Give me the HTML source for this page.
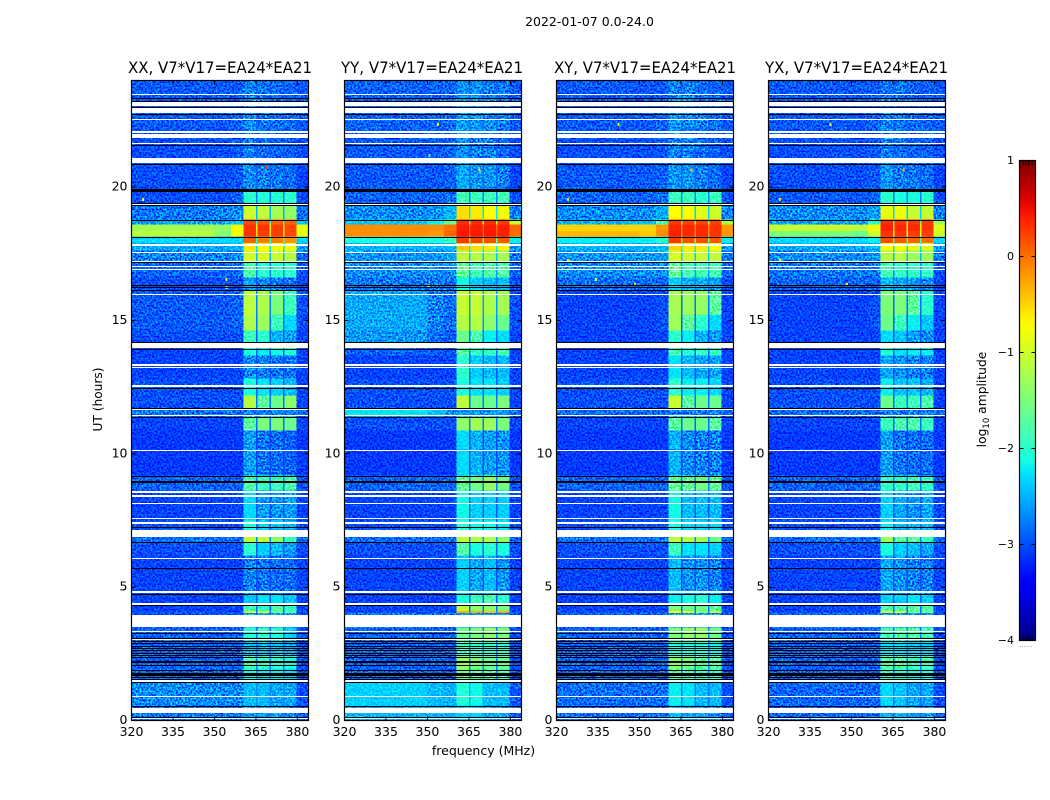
<!DOCTYPE html>
<html lang="en">
<head>
<meta charset="utf-8">
<title>2022-01-07 amplitude waterfall</title>
<style>
html,body{margin:0;padding:0;background:#fff;width:1050px;height:800px;overflow:hidden}
svg{display:block}
text{font-family:"DejaVu Sans","Liberation Sans",sans-serif;fill:#000}
</style>
</head>
<body>
<svg id="chart" xmlns="http://www.w3.org/2000/svg" width="1050" height="800" viewBox="0 0 1050 800">
<defs>
<filter id="speckle" x="0" y="0" width="100%" height="100%" color-interpolation-filters="sRGB">
<feTurbulence type="fractalNoise" baseFrequency="0.55" numOctaves="1" seed="7"/>
<feColorMatrix type="matrix" values="2.6 0 0 0 -0.8  2.6 0 0 0 -0.8  2.6 0 0 0 -0.8  0 0 0 0 1"/>
</filter>
<linearGradient id="jet-gradient" x1="0" y1="1" x2="0" y2="0"></linearGradient>
</defs>
<text x="589.5" y="26" font-size="12.5" text-anchor="middle">2022-01-07 0.0-24.0</text>
<text x="483.5" y="755" font-size="12.5" text-anchor="middle">frequency (MHz)</text>
<text x="0" y="0" font-size="12.2" text-anchor="middle" transform="translate(102 399.5) rotate(-90)">UT (hours)</text>
<text x="0" y="0" font-size="12.3" text-anchor="middle" transform="translate(986 399.5) rotate(-90)">log<tspan font-size="8.5" dy="3">10</tspan><tspan dy="-3"> amplitude</tspan></text>
<text x="1026" y="647" font-size="5" fill="#555" text-anchor="middle" letter-spacing="0.6">......</text>
</svg>
<script>
// Time rows: edges in UT hours, top to bottom
const rowEdges = [24,23.36,22.13,20.81,19.88,19.31,18.79,18.6,18.35,18.15,17.9,17.63,17.18,16.61,16.13,15.2,14.63,14.18,13.69,12.83,12.19,11.70,11.4,10.88,9.19,8.63,7.5,6.9,6.68,6.19,4.73,4.35,4.1,4.04,3.49,3.0,2.44,1.95,1.43,0.56,0];
// Frequency blocks in MHz, [start, end]; the column index is the block's position in each amplitude row
const freqBlocks = [[320,350],[350,356],[356,360.5],[360.5,365],[365.5,369.9],[370.4,374.8],[375.4,379.6],[379.6,384]];
// Log10 amplitude per row: [320-350, 350-356, 356-360, sub1, sub2, sub3, sub4, 380-384]
const ampXX = [
[-2.95,-2.95,-2.95,-2.75,-2.8,-2.85,-2.9,-2.95],
[-2.95,-2.95,-2.9,-2.7,-2.8,-2.85,-2.85,-2.95],
[-3,-3,-2.95,-2.75,-2.85,-2.9,-2.9,-3],
[-3,-3,-2.95,-2.7,-2.75,-2.8,-2.85,-3.05],
[-3,-3,-2.9,-2,-2.05,-2.05,-2,-3],
[-2.8,-2.75,-2.7,-1,-1.1,-1.25,-1.35,-2.85],
[-2.6,-2.6,-2.4,0.18,0.13,0.08,0.08,-2.4],
[-1.25,-1.35,-0.75,0.3,0.3,0.25,0.2,-0.85],
[-1.15,-1.45,-0.75,0.3,0.25,0.25,0.2,-0.85],
[-2.3,-2.3,-2.3,0.08,-0.07,-0.07,-0.17,-2.3],
[-2.55,-2.55,-2.5,-0.6,-0.7,-0.75,-0.8,-2.6],
[-2.75,-2.75,-2.7,-1,-0.95,-1.05,-1.15,-2.85],
[-2.9,-2.9,-2.85,-1.8,-2,-2,-2,-3],
[-3,-3,-3,-2.6,-2.7,-2.75,-2.8,-3.05],
[-2.95,-2.95,-2.9,-1.1,-1.2,-1.5,-1.9,-3],
[-2.95,-2.95,-2.9,-1.2,-1.3,-1.9,-2.3,-3],
[-3,-3,-3,-1.9,-2,-2.5,-2.6,-3.05],
[-3.05,-3.05,-3.05,-2.1,-2.2,-2.15,-2.05,-3.05],
[-3.05,-3.05,-3.05,-2.7,-2.75,-2.8,-2.8,-3.05],
[-3,-3,-3,-2.1,-2.25,-2.35,-2.45,-3.05],
[-3,-3,-3,-1.15,-1.7,-1.6,-1.4,-3.05],
[-2.8,-2.8,-2.8,-2.75,-2.75,-2.75,-2.75,-2.85],
[-3.05,-3.05,-3.05,-1.7,-1.5,-1.5,-1.6,-3.05],
[-3.1,-3.1,-3.1,-2.6,-2.8,-2.85,-2.9,-3.1],
[-2.9,-2.9,-2.9,-1.8,-1.9,-1.9,-1.8,-3],
[-3.05,-3.05,-3.05,-2.3,-2.6,-2.65,-2.6,-3.05],
[-3,-3,-3,-2.1,-2.35,-2.4,-2.45,-3],
[-2.85,-2.85,-2.85,-1.1,-1.1,-1.4,-1.9,-2.9],
[-3,-3,-3,-2,-2.35,-2.45,-2.6,-3],
[-3.05,-3.05,-3.05,-2.75,-2.8,-2.85,-2.85,-3.05],
[-3.05,-3.05,-3.05,-2.4,-2.25,-2.25,-2.4,-3.05],
[-3.05,-3.05,-3.05,-1.85,-1.95,-1.75,-1.95,-3.05],
[-3,-3,-3,-1,-1,-1.6,-1.7,-3],
[-3,-3,-3,-2.6,-2.6,-2.6,-2.65,-3],
[-2.9,-2.9,-2.9,-2.05,-1.95,-2.05,-2.35,-3],
[-2.9,-2.9,-2.9,-2.4,-2.4,-2.4,-2.5,-3],
[-2.9,-2.9,-2.9,-1.8,-1.9,-1.95,-2.05,-3],
[-2.9,-2.9,-2.9,-2.1,-2.2,-2.2,-2.3,-3],
[-2.7,-2.7,-2.72,-2.45,-2.45,-2.55,-2.55,-3],
[-2.8,-2.8,-2.8,-2.6,-2.6,-2.6,-2.7,-2.95]
];
const ampYY = [
[-2.9,-2.9,-2.9,-2.65,-2.65,-2.75,-2.8,-2.95],
[-2.9,-2.9,-2.85,-2.6,-2.65,-2.7,-2.75,-2.95],
[-2.95,-2.95,-2.9,-2.65,-2.75,-2.75,-2.85,-3],
[-2.95,-2.95,-2.9,-2.55,-2.65,-2.65,-2.75,-3.05],
[-2.9,-2.9,-2.85,-1.85,-1.9,-1.9,-1.85,-3],
[-2.7,-2.65,-2.5,-0.55,-0.6,-0.7,-0.8,-2.75],
[-2.4,-2.2,-1.6,0.33,0.33,0.33,0.28,-1],
[-0.15,-0.15,0,0.42,0.42,0.42,0.4,0.05],
[-0.15,-0.2,0.05,0.45,0.45,0.43,0.4,0],
[-2.1,-2.1,-1.9,0.28,0.23,0.18,0.13,-2.2],
[-2.5,-2.5,-2.45,-0.45,-0.55,-0.6,-0.65,-2.6],
[-2.65,-2.65,-2.6,-1.1,-1.15,-1.2,-1.25,-2.8],
[-2.7,-2.7,-2.7,-1.65,-1.85,-1.75,-1.75,-2.9],
[-2.8,-2.8,-2.8,-2.15,-2.35,-2.45,-2.45,-3],
[-2.55,-2.75,-2.85,-1.05,-1.05,-1.2,-1.25,-3],
[-2.55,-2.75,-2.85,-1.15,-1.15,-1.4,-1.6,-3],
[-2.65,-2.85,-2.95,-1.6,-1.8,-2.2,-2.3,-3.05],
[-2.9,-2.95,-2.95,-1.75,-1.95,-1.95,-1.85,-3.05],
[-3.05,-3.05,-3.05,-2,-2.35,-2.45,-2.45,-3.05],
[-3,-3,-3,-2.1,-2.25,-2.25,-2.35,-3.05],
[-3,-3,-3,-1.1,-1.6,-1.6,-1.5,-3.05],
[-2.25,-2.4,-2.65,-2.65,-2.65,-2.65,-2.65,-2.85],
[-3,-3,-3,-1.4,-1.25,-1.3,-1.5,-3.05],
[-3.1,-3.1,-3.1,-2.3,-2.5,-2.6,-2.65,-3.1],
[-2.9,-2.9,-2.9,-1.65,-1.55,-1.35,-1.55,-3],
[-3.05,-3.05,-3.05,-2.15,-2.35,-2.35,-2.35,-3.05],
[-3,-3,-3,-2,-2.15,-2.15,-2.25,-3],
[-2.85,-2.85,-2.85,-1.1,-1.2,-1.2,-1.4,-2.9],
[-3,-3,-3,-1.75,-2.1,-2,-2.1,-3],
[-3.05,-3.05,-3.05,-2.35,-2.55,-2.45,-2.65,-3.05],
[-3.05,-3.05,-3.05,-2.1,-1.9,-1.8,-2,-3.05],
[-3.05,-3.05,-3.05,-1.1,-1.4,-1.4,-1.5,-3.05],
[-3,-3,-3,-0.3,-0.3,-0.4,-0.3,-3],
[-2.8,-2.8,-2.8,-2.65,-2.65,-2.65,-2.65,-3],
[-2.9,-2.9,-2.9,-1.6,-1.5,-1.4,-1.5,-3],
[-2.9,-2.9,-2.9,-1.85,-1.95,-1.95,-1.95,-3],
[-2.9,-2.9,-2.9,-1.3,-1.5,-1.6,-1.6,-3],
[-2.9,-2.9,-2.9,-1.5,-1.7,-1.7,-1.8,-3],
[-2.35,-2.45,-2.5,-2.05,-2.15,-2.45,-2.45,-2.95],
[-2.5,-2.5,-2.5,-2.35,-2.35,-2.55,-2.55,-2.95]
];
const ampXY = [
[-2.95,-2.95,-2.95,-2.75,-2.75,-2.85,-2.9,-2.95],
[-2.95,-2.95,-2.9,-2.65,-2.7,-2.75,-2.85,-2.95],
[-3,-3,-2.95,-2.75,-2.75,-2.85,-2.9,-3],
[-2.95,-2.95,-2.9,-2.65,-2.65,-2.75,-2.85,-3.05],
[-2.9,-2.9,-2.85,-1.9,-1.9,-2,-1.9,-3],
[-2.7,-2.7,-2.55,-0.7,-0.7,-0.9,-1,-2.75],
[-2.5,-2.4,-1.8,0.28,0.23,0.23,0.23,-1.2],
[-0.5,-0.5,-0.2,0.37,0.37,0.35,0.3,-0.2],
[-0.35,-0.45,-0.15,0.4,0.35,0.35,0.3,-0.2],
[-2.2,-2.2,-2,0.28,0.18,0.18,0.13,-2.2],
[-2.5,-2.5,-2.45,-0.5,-0.6,-0.6,-0.7,-2.6],
[-2.65,-2.65,-2.6,-0.95,-1,-1.05,-1.1,-2.8],
[-2.7,-2.7,-2.7,-1.65,-1.85,-1.85,-1.85,-2.9],
[-2.85,-2.85,-2.85,-2.35,-2.5,-2.5,-2.6,-3],
[-3.05,-3.05,-3,-1.25,-1.3,-1.35,-1.7,-3.05],
[-3.05,-3.05,-3,-1.3,-1.7,-2,-2.3,-3.05],
[-3.05,-3.05,-3.05,-2,-2.2,-2.5,-2.6,-3.05],
[-3.05,-3.05,-3.05,-1.85,-2.05,-1.95,-1.95,-3.05],
[-3.05,-3.05,-3.05,-2.25,-2.45,-2.55,-2.55,-3.05],
[-3,-3,-3,-2,-2.2,-2.2,-2.3,-3.05],
[-3,-3,-3,-1.05,-1.7,-1.6,-1.6,-3.05],
[-2.85,-2.85,-2.85,-2.75,-2.75,-2.75,-2.75,-2.9],
[-3.05,-3.05,-3.05,-1.7,-1.6,-1.6,-1.7,-3.05],
[-3.1,-3.1,-3.1,-2.5,-2.7,-2.75,-2.75,-3.1],
[-2.9,-2.9,-2.9,-1.65,-1.65,-1.55,-1.65,-3],
[-3.05,-3.05,-3.05,-2.15,-2.45,-2.45,-2.45,-3.05],
[-3,-3,-3,-2.1,-2.3,-2.3,-2.3,-3],
[-2.85,-2.85,-2.85,-1.1,-1.15,-1.3,-1.6,-2.9],
[-3,-3,-3,-1.9,-2.25,-2.25,-2.35,-3],
[-3.05,-3.05,-3.05,-2.45,-2.65,-2.65,-2.75,-3.05],
[-3.05,-3.05,-3.05,-2.2,-2.1,-2,-2.2,-3.05],
[-3.05,-3.05,-3.05,-1.5,-1.6,-1.6,-1.7,-3.05],
[-3,-3,-3,-0.7,-0.8,-1.4,-1,-3],
[-2.9,-2.9,-2.9,-2.65,-2.65,-2.65,-2.65,-3],
[-2.9,-2.9,-2.9,-1.5,-1.35,-1.35,-1.6,-3],
[-2.9,-2.9,-2.9,-2.05,-2.05,-2.05,-2.15,-3],
[-2.9,-2.9,-2.9,-1.4,-1.5,-1.7,-1.7,-3],
[-2.9,-2.9,-2.9,-1.7,-1.8,-1.9,-1.9,-3],
[-2.85,-2.85,-2.85,-2.2,-2.25,-2.45,-2.45,-3],
[-2.85,-2.85,-2.85,-2.45,-2.55,-2.55,-2.65,-2.95]
];
const ampYX = [
[-2.95,-2.95,-2.95,-2.8,-2.8,-2.9,-2.9,-2.95],
[-2.95,-2.95,-2.9,-2.75,-2.8,-2.85,-2.9,-2.95],
[-3,-3,-2.95,-2.75,-2.85,-2.9,-2.9,-3],
[-3,-3,-2.95,-2.65,-2.75,-2.8,-2.85,-3.05],
[-2.95,-2.95,-2.9,-2,-2.1,-2.1,-2,-3],
[-2.7,-2.7,-2.6,-0.85,-0.8,-1.05,-1.05,-2.75],
[-2.6,-2.6,-2,0.33,0.28,0.28,0.28,-1.3],
[-1.05,-1.1,-0.8,0.4,0.37,0.35,0.3,-0.9],
[-1.5,-1.6,-1,0.3,0.3,0.25,0.25,-1],
[-2.3,-2.3,-2.2,0.18,0.13,0.08,0.03,-2.3],
[-2.55,-2.55,-2.5,-0.7,-0.75,-0.85,-0.9,-2.6],
[-2.7,-2.7,-2.65,-1.15,-1.1,-1.3,-1.3,-2.8],
[-2.8,-2.8,-2.8,-1.85,-1.95,-1.95,-1.95,-3],
[-2.9,-2.9,-2.9,-2.45,-2.55,-2.6,-2.7,-3.05],
[-3.05,-3.05,-3,-1.5,-1.5,-1.7,-2,-3.05],
[-3.05,-3.05,-3,-1.6,-1.9,-2.2,-2.4,-3.05],
[-3.05,-3.05,-3.05,-2.3,-2.4,-2.6,-2.7,-3.05],
[-3.05,-3.05,-3.05,-2.05,-2.25,-2.2,-2.2,-3.05],
[-3.05,-3.05,-3.05,-2.55,-2.65,-2.75,-2.75,-3.05],
[-3,-3,-3,-2.2,-2.4,-2.4,-2.5,-3.05],
[-3,-3,-3,-1.6,-1.9,-1.9,-1.8,-3.05],
[-2.85,-2.85,-2.85,-2.75,-2.75,-2.75,-2.75,-2.9],
[-3.05,-3.05,-3.05,-1.9,-1.8,-1.8,-1.9,-3.05],
[-3.1,-3.1,-3.1,-2.6,-2.8,-2.85,-2.85,-3.1],
[-2.9,-2.9,-2.9,-1.95,-1.95,-1.85,-1.95,-3],
[-3.05,-3.05,-3.05,-2.35,-2.55,-2.65,-2.55,-3.05],
[-3,-3,-3,-2.2,-2.45,-2.45,-2.45,-3],
[-2.85,-2.85,-2.85,-1.3,-1.7,-1.7,-1.9,-2.9],
[-3,-3,-3,-2.1,-2.35,-2.45,-2.55,-3],
[-3.05,-3.05,-3.05,-2.55,-2.65,-2.75,-2.75,-3.05],
[-3.05,-3.05,-3.05,-2.35,-2.35,-2.25,-2.35,-3.05],
[-3.05,-3.05,-3.05,-1.8,-1.8,-1.7,-1.8,-3.05],
[-3,-3,-3,-0.9,-0.9,-1.6,-1.5,-3],
[-2.9,-2.9,-2.9,-2.65,-2.65,-2.65,-2.65,-3],
[-2.9,-2.9,-2.9,-1.85,-1.75,-1.75,-1.85,-3],
[-2.9,-2.9,-2.9,-2.25,-2.25,-2.35,-2.35,-3],
[-2.9,-2.9,-2.9,-1.7,-1.7,-1.9,-1.8,-3],
[-2.9,-2.9,-2.9,-1.9,-2,-2.1,-2.1,-3],
[-2.88,-2.88,-2.88,-2.3,-2.4,-2.55,-2.55,-3],
[-2.88,-2.88,-2.88,-2.5,-2.5,-2.6,-2.6,-2.95]
];
// Flagged (no data) intervals in UT hours: [upper, lower]
const flaggedGaps = [[23.51,23.46],[23.19,23.06],[22.96,22.77],[22.56,22.51],[22.10,22.05],[22.01,21.83],[21.66,21.62],[21.08,20.89],[19.39,19.33],[17.86,17.81],[17.57,17.52],[17.25,17.21],[17.03,16.99],[16.95,16.91],[16.01,15.98],[14.16,13.97],[13.36,13.31],[13.26,13.23],[12.60,12.56],[12.54,12.50],[11.67,11.63],[11.46,11.43],[10.16,10.13],[8.61,8.58],[8.56,8.52],[8.44,8.40],[8.15,8.11],[7.61,7.58],[7.43,7.38],[7.16,7.13],[7.11,6.90],[6.10,6.06],[4.84,4.77],[4.39,4.35],[3.94,3.50],[3.36,3.31],[3.05,3.01],[1.55,1.45],[0.93,0.89],[0.46,0.27],[0.09,0.05]];
// Black scan-boundary lines in UT hours
const scanLines = [23.34,23.23,22.99,22.76,21.59,20.88,19.92,19.89,19.85,19.39,19.32,18.78,18.15,17.18,16.35,16.24,16.13,14.19,13.95,12.48,11.71,11.40,9.16,9.0,8.96,7.25,6.69,5.71,4.73,4.34,3.27,3.09,3.0,2.89,2.8,2.71,2.63,2.54,2.46,2.38,2.25,2.18,2.1,1.88,1.8,1.75,1.71,1.65,1.56,1.44,0.55,0.15];
// Isolated interference spots: [panel index, UT hour, MHz, log10 amplitude]
const rfiSpots = [[0,20.8,368.4,0.3],[0,16.6,354,-0.6],[0,16.3,354,-0.8],[0,19.6,323.8,-0.9],[1,22.4,353.5,-0.8],[1,21.25,350.3,-1.7],[1,21.1,350.3,-1.7],[1,20.7,368.4,-0.6],[1,16.35,350,-0.8],[2,19.6,323.8,-0.5],[2,17.3,323.8,-0.6],[2,22.4,342,-0.9],[2,20.7,368.4,-0.4],[2,16.4,348,-0.5],[2,16.6,334,-1],[3,19.6,323.8,-0.5],[3,17.3,323.8,-0.6],[3,22.4,342,-0.9],[3,20.7,368.4,-0.4],[3,16.4,348,-0.6]];
// Axis ticks and panel labels
const panelTitles = ['XX, V7*V17=EA24*EA21','YY, V7*V17=EA24*EA21','XY, V7*V17=EA24*EA21','YX, V7*V17=EA24*EA21'];
const panelKeys = ['xx','yy','xy','yx'];
const panelAmps = [ampXX,ampYY,ampXY,ampYX];
const freqTicks = [320,335,350,365,380];
const hourTicks = [0,5,10,15,20];
const colorbarTicks = [1,0,-1,-2,-3,-4];

const NS = 'http://www.w3.org/2000/svg';
const svg = document.getElementById('chart');
const plotTop = 80.5, plotBottom = 720.5, plotWidth = 177;
const panelLefts = [131.5,344.5,556.5,768.5];
const titleCenters = [220,432,645,856.5];
const titleWidths = [184,182,182,183];
const freqMin = 320, freqMax = 384, hourMin = 0, hourMax = 24, ampMin = -4, ampMax = 1;
const cbLeft = 1019.5, cbRight = 1035.5, cbTop = 160.5, cbBottom = 640.5;
const noisyBelow = -1.6;

function xScale(left, mhz){ return left + (mhz - freqMin) / (freqMax - freqMin) * plotWidth; }
function yScale(hour){ return plotBottom - (hour - hourMin) / (hourMax - hourMin) * (plotBottom - plotTop); }
function cbScale(v){ return cbBottom - (v - ampMin) / (ampMax - ampMin) * (cbBottom - cbTop); }
function jet(t){
  t = Math.max(0, Math.min(1, t));
  const ramp = x => Math.max(0, Math.min(1, x));
  const r = ramp(t < 0.89 ? (t - 0.35) / 0.31 : 1 - (t - 0.89) / 0.11 * 0.5);
  const g = ramp(t < 0.64 ? (t - 0.125) / 0.25 : (0.91 - t) / 0.25);
  const b = ramp(t < 0.11 ? 0.5 + t / 0.11 * 0.5 : (0.65 - t) / 0.31);
  return 'rgb(' + Math.round(r * 255) + ',' + Math.round(g * 255) + ',' + Math.round(b * 255) + ')';
}
function ampColor(v){ return jet((v - ampMin) / (ampMax - ampMin)); }
function make(tag, parent, attrs){
  const el = document.createElementNS(NS, tag);
  for (const k in attrs) el.setAttribute(k, attrs[k]);
  parent.appendChild(el);
  return el;
}

panelKeys.forEach(function(key, p){
  const left = panelLefts[p], right = left + plotWidth, amps = panelAmps[p];
  const panel = make('g', svg, {});
  
  

  const title = make('text', panel, {x: titleCenters[p], y: 73, 'font-size': 15.6, 'text-anchor': 'middle', textLength: titleWidths[p], lengthAdjust: 'spacingAndGlyphs'});
  
  
  title.textContent = panelTitles[p];

  const clipId = 'clip-' + key;
  const clip = make('clipPath', panel, {id: clipId});
  make('rect', clip, {x: left, y: plotTop, width: plotWidth, height: plotBottom - plotTop});
  const noiseClip = make('clipPath', panel, {id: 'noise-clip-' + key});

  const heat = make('g', panel, {'clip-path': 'url(#' + clipId + ')', 'shape-rendering': 'crispEdges'});
  
  

  amps.forEach(function(row, r){
    const y0 = yScale(rowEdges[r]), y1 = yScale(rowEdges[r + 1]);
    // channels between sub-bands sit under the blocks: mostly the row's background, lifted a little by the dimmest sub-band
    const gapValue = 0.15 * Math.min(row[3], row[4], row[5], row[6]) + 0.85 * row[2];
    const base = make('rect', heat, {x: xScale(left, freqBlocks[3][0]), y: y0, width: xScale(left, freqBlocks[6][1]) - xScale(left, freqBlocks[3][0]), height: y1 - y0, fill: ampColor(gapValue)});
    
    
    freqBlocks.forEach(function(block, c){
      const x0 = xScale(left, block[0]), x1 = xScale(left, block[1]);
      const cell = make('rect', heat, {x: x0, y: y0, width: x1 - x0, height: y1 - y0, fill: ampColor(row[c])});
      
      
      if (row[c] < noisyBelow) {
        make('rect', noiseClip, {x: x0, y: y0, width: x1 - x0, height: y1 - y0});
      }
    });
  });

  const noiseWrap = make('g', panel, {'clip-path': 'url(#noise-clip-' + key + ')', style: 'mix-blend-mode:overlay'});
  
  
  make('rect', noiseWrap, {x: left, y: plotTop, width: plotWidth, height: plotBottom - plotTop, filter: 'url(#speckle)'});

  const spots = make('g', panel, {'shape-rendering': 'crispEdges'});
  
  
  rfiSpots.forEach(function(s){
    if (s[0] !== p) return;
    const spot = make('rect', spots, {x: xScale(left, s[2]), y: yScale(s[1]), width: 2, height: 3, fill: ampColor(s[3])});
    
    
  });

  const flags = make('g', panel, {'shape-rendering': 'crispEdges'});
  
  
  flaggedGaps.forEach(function(g){
    const yA = Math.round(yScale(g[0])), yB = Math.round(yScale(g[1]));
    const gap = make('rect', flags, {x: left, y: yA, width: plotWidth, height: Math.max(1, yB - yA), fill: '#fff'});
    
    
  });

  const lines = make('g', panel, {'shape-rendering': 'crispEdges'});
  
  
  scanLines.forEach(function(h){
    const line = make('rect', lines, {x: left, y: Math.round(yScale(h)), width: plotWidth, height: 1, fill: '#000'});
    
    
  });

  const frame = make('rect', panel, {x: left, y: plotTop, width: plotWidth, height: plotBottom - plotTop, fill: 'none', stroke: '#000', 'stroke-width': 1.2});
  
  

  freqTicks.forEach(function(f){
    const x = xScale(left, f);
    const tick = make('path', panel, {d: 'M' + x + ' ' + plotBottom + 'v-4M' + x + ' ' + plotTop + 'v4', stroke: '#000', 'stroke-width': 1, fill: 'none'});
    
    
    const label = make('text', panel, {x: x, y: 736, 'font-size': 12.5, 'text-anchor': 'middle'});
    
    
    label.textContent = f;
  });
  hourTicks.forEach(function(h){
    const y = yScale(h);
    const tick = make('path', panel, {d: 'M' + left + ' ' + y + 'h4M' + right + ' ' + y + 'h-4', stroke: '#000', 'stroke-width': 1, fill: 'none'});
    
    
    const label = make('text', panel, {x: left - 4, y: y + 3.5, 'font-size': 12.5, 'text-anchor': 'end'});
    
    
    label.textContent = h;
  });
});

// Colorbar
const gradient = document.getElementById('jet-gradient');
for (let i = 0; i <= 40; i++) {
  make('stop', gradient, {offset: (i / 40), 'stop-color': jet(i / 40)});
}
const colorbar = make('g', svg, {});


const cbRect = make('rect', colorbar, {x: cbLeft, y: cbTop, width: cbRight - cbLeft, height: cbBottom - cbTop, fill: 'url(#jet-gradient)', stroke: '#000', 'stroke-width': 1.2});


colorbarTicks.forEach(function(v){
  const y = cbScale(v);
  const tick = make('path', colorbar, {d: 'M' + cbLeft + ' ' + y + 'h4M' + cbRight + ' ' + y + 'h-4', stroke: '#000', 'stroke-width': 1, fill: 'none'});
  
  
  const label = make('text', colorbar, {x: 1014, y: y + 3.5, 'font-size': 11, 'text-anchor': 'end'});
  
  
  label.textContent = v < 0 ? '\u2212' + Math.abs(v) : String(v);
});
[1023,1026,1029,1032].forEach(function(x){
  const minor = make('path', colorbar, {d: 'M' + x + ' ' + cbTop + 'v5M' + x + ' ' + cbBottom + 'v-5', stroke: '#000', 'stroke-width': 1, fill: 'none'});
  
  
});
</script>
</body>
</html>
